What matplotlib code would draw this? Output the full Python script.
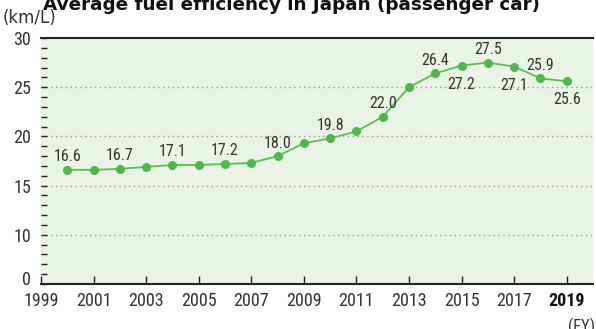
import numpy as np
import matplotlib
matplotlib.use("Agg")
import matplotlib.pyplot as plt
from matplotlib import font_manager
from matplotlib.ticker import FixedLocator
from matplotlib.transforms import ScaledTranslation

# Fiscal-year passenger car fuel efficiency (km/L)
years = [2000, 2001, 2002, 2003, 2004, 2005, 2006, 2007, 2008, 2009,
         2010, 2011, 2012, 2013, 2014, 2015, 2016, 2017, 2018, 2019]
efficiency = [16.6, 16.6, 16.7, 16.9, 17.1, 17.1, 17.2, 17.3, 18.0, 19.3,
              19.8, 20.5, 22.0, 25.0, 26.4, 27.2, 27.5, 27.1, 25.9, 25.6]
labels_above = [2000, 2002, 2004, 2006, 2008, 2010, 2012, 2014, 2016, 2018]
labels_below = [2015, 2017, 2019]
x_ticks = [1999, 2001, 2003, 2005, 2007, 2009, 2011, 2013, 2015, 2017, 2019]
y_ticks = [0, 10, 15, 20, 25, 30]
y_minor = [2, 4, 6, 8, 11, 12, 13, 14, 16, 17, 18, 19, 21, 22, 23, 24,
           26, 27, 28, 29]

available = {f.name for f in font_manager.fontManager.ttflist}
narrow = "DejaVu Sans"
for cand in ["Liberation Sans Narrow", "DejaVu Sans Condensed", "Roboto Condensed"]:
    if cand in available:
        narrow = cand
        break

TEXT = "#333333"
GREEN_LINE = "#5cbd50"
GREEN_DOT = "#4cb847"
BG = "#e9f4e6"

fig = plt.figure(figsize=(5.96, 3.29), dpi=100)
ax = fig.add_axes([41 / 596, 45 / 329, 552 / 596, 246 / 329])
ax.set_facecolor(BG)


# compressed range below 10
def fwd(y):
    y = np.asarray(y, dtype=float)
    return np.where(y <= 10, y / 2.0, y - 5.0)


def inv(y):
    y = np.asarray(y, dtype=float)
    return np.where(y <= 5, y * 2.0, y + 5.0)


ax.set_yscale("function", functions=(fwd, inv))
ax.set_ylim(0, 30)
ax.set_xlim(1999, 2020)

for g in [10, 15, 20, 25]:
    ax.axhline(g, color="#9a9a9a", lw=1.0, ls=(0, (1, 2.5)), zorder=1)

ax.plot(years, efficiency, color=GREEN_LINE, lw=1.3, zorder=3)
ax.plot(years, efficiency, "o", color=GREEN_DOT, ms=6.5, mec="none", zorder=4)

vals = dict(zip(years, efficiency))
for yr in labels_above:
    ax.annotate(f"{vals[yr]:.1f}", (yr, vals[yr]), xytext=(0, 4),
                textcoords="offset points", ha="center", va="bottom",
                fontsize=11.5, family=narrow, color=TEXT, zorder=5)
for yr in labels_below:
    ax.annotate(f"{vals[yr]:.1f}", (yr, vals[yr]), xytext=(0, -8),
                textcoords="offset points", ha="center", va="top",
                fontsize=11.5, family=narrow, color=TEXT, zorder=5)

for s in ["left", "right"]:
    ax.spines[s].set_visible(False)
ax.spines["top"].set_color("#222222")
ax.spines["top"].set_linewidth(1.5)
ax.spines["bottom"].set_color("#222222")
ax.spines["bottom"].set_linewidth(1.5)

ax.set_xticks(x_ticks)
ax.set_xticklabels([str(t) for t in x_ticks])
ax.yaxis.set_major_locator(FixedLocator(y_ticks))
ax.yaxis.set_minor_locator(FixedLocator(y_minor))
ax.set_yticklabels([str(t) for t in y_ticks])
ax.tick_params(axis="x", direction="in", length=6, width=1, color="#222222",
               labelsize=13, labelcolor=TEXT, pad=6)
ax.tick_params(axis="y", which="both", direction="in", length=4, width=1,
               color="#222222", labelsize=13, labelcolor=TEXT, pad=7)
ax.tick_params(axis="x", which="minor", bottom=False)
for lab in ax.get_xticklabels() + ax.get_yticklabels():
    lab.set_family(narrow)
ax.get_xticklabels()[-1].set_fontweight("bold")
ax.get_xticklabels()[-1].set_color("#111111")
# lift the zero label a little off the baseline
zero_lab = ax.get_yticklabels()[0]
zero_lab.set_transform(zero_lab.get_transform()
                       + ScaledTranslation(0, 4 / 72, fig.dpi_scale_trans))

fig.text(3 / 596, 1 - 18 / 329, "(km/L)", fontsize=12, color=TEXT,
         ha="left", va="center")
fig.text(595 / 596, 1 - 318 / 329, "(FY)", fontsize=12, family=narrow,
         color=TEXT, ha="right", va="top")
fig.text(43 / 596, 1 - 10 / 329, "Average fuel efficiency in Japan (passenger car)",
         fontsize=13.2, fontweight="bold", color="#111111", ha="left",
         va="baseline")

fig.savefig("out.png", dpi=100, facecolor="white")
